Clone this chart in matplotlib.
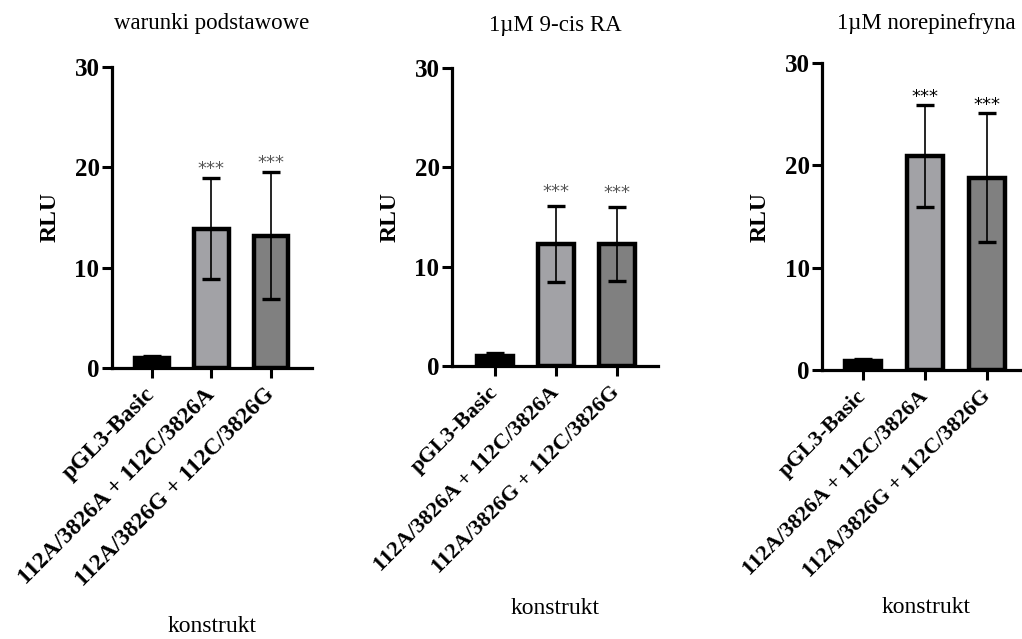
import numpy as np
import matplotlib
matplotlib.use('Agg')
import matplotlib.pyplot as plt

# Data
categories = ['pGL3-Basic', '112A/3826A + 112C/3826A', '112A/3826G + 112C/3826G']
titles = ['warunki podstawowe', '1\u00b5M 9-cis RA', '1\u00b5M norepinefryna']
basal_mean = [0.95, 13.9, 13.2]
basal_sd = [0.2, 5.0, 6.3]
ra_mean = [1.0, 12.3, 12.3]
ra_sd = [0.3, 3.8, 3.7]
ne_mean = [0.85, 20.9, 18.8]
ne_sd = [0.2, 4.95, 6.3]
stars = ['', '***', '***']
yticks = [0, 10, 20, 30]

bar_colors = ['#000000', '#a2a2a6', '#808080']

plt.rcParams['font.family'] = ['Liberation Serif', 'DejaVu Serif']

fig = plt.figure(figsize=(10.22, 6.39), dpi=100)

# axes boxes in figure pixels: left, right, bottom(y from top), top(y from top)
W, H = 1022, 639
boxes = [(112, 312, 368, 67), (452, 658, 366, 68), (822, 1030, 370, 63)]
xlims = [(-0.67, 2.69), (-0.70, 2.67), (-0.66, 2.69)]
means = [basal_mean, ra_mean, ne_mean]
sds = [basal_sd, ra_sd, ne_sd]
star_off = [0.9, 1.4, 0.8]
star_col = ['#555555', '#555555', 'black']
tick_fs = [17, 16, 16]
title_y = [1.146, 1.144, 1.13]
xlab_y = [-0.86, -0.815, -0.772]

x = np.arange(len(categories))

for i in range(3):
    l, r, b, t = boxes[i]
    ax = fig.add_axes([l / W, (H - b) / H, (r - l) / W, (b - t) / H])
    ax.bar(x, means[i], width=0.58, color=bar_colors, edgecolor='black',
           linewidth=3.2, zorder=2)
    ax.errorbar(x, means[i], yerr=sds[i], fmt='none', ecolor='black',
                elinewidth=1.2, capsize=6.5, capthick=2.4, zorder=3)
    for xi, m, s, st in zip(x, means[i], sds[i], stars):
        if st:
            ax.text(xi, m + s + star_off[i], st, ha='center', va='center',
                    fontsize=13, color=star_col[i], family='DejaVu Sans')
    ax.set_xlim(*xlims[i])
    ax.set_ylim(0, 30)
    ax.set_yticks(yticks)
    ax.set_xticks(x)
    ax.set_xticklabels(categories, rotation=45, ha='right', va='center',
                       rotation_mode='anchor', fontsize=tick_fs[i],
                       fontweight='bold')
    for lab in ax.get_yticklabels():
        lab.set_fontweight('bold')
        lab.set_fontsize(18)
    ax.tick_params(axis='both', length=7, width=2.2, pad=2)
    ax.tick_params(axis='x', pad=10)
    for side in ['top', 'right']:
        ax.spines[side].set_visible(False)
    for side in ['left', 'bottom']:
        ax.spines[side].set_linewidth(2.3)
    ax.set_ylabel('RLU', fontsize=17, fontweight='bold', va='center')
    ax.yaxis.set_label_coords(-62 / (r - l), 0.5)
    ax.text(0.5, title_y[i], titles[i], transform=ax.transAxes,
            ha='center', va='center', fontsize=16.5)
    ax.text(0.5, xlab_y[i], 'konstrukt', transform=ax.transAxes,
            ha='center', va='center', fontsize=17)

fig.savefig('out.png', dpi=100)
